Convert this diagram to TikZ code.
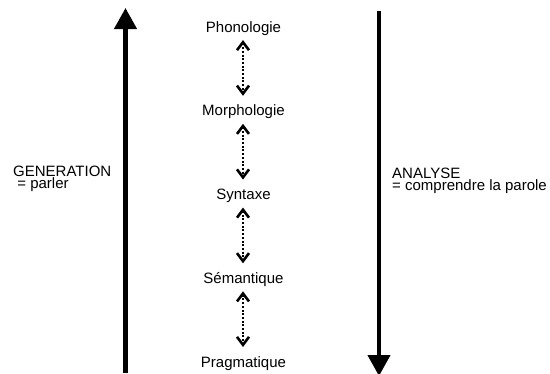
\documentclass[tikz,border=0pt]{standalone}
\usepackage{fontspec}
\setmainfont{Liberation Sans}
\usetikzlibrary{arrows.meta}
\tikzset{barb/.tip={Straight Barb[width=12pt,length=8pt,line width=2.6pt]}}
\begin{document}
\begin{tikzpicture}[x=1pt,y=-1pt,
  level/.style={font=\fontsize{15}{18}\selectfont, inner sep=0pt, anchor=base},
  side/.style={font=\fontsize{15}{12.5}\selectfont, inner sep=0pt, align=left, anchor=base west},
  flow/.style={line width=4.2pt, -{Triangle[width=22pt,length=21pt]}},
  link/.style={line width=2pt, dash pattern=on 2pt off 1.7pt, barb-barb}]
\useasboundingbox (0,0) rectangle (550,373);
% levels of language
\node[level] (pho) at (243.5,32) {Phonologie};
\node[level] (mor) at (243.5,115.75) {Morphologie};
\node[level] (syn) at (243.5,199.5) {Syntaxe};
\node[level] (sem) at (243.5,283.25) {Sémantique};
\node[level] (pra) at (243.5,367) {Pragmatique};
% links between neighbouring levels
\coordinate (a1) at (243,40);     \coordinate (b1) at (243,95.75);
\coordinate (a2) at (243,123.75); \coordinate (b2) at (243,179.5);
\coordinate (a3) at (243,207.5);  \coordinate (b3) at (243,263.25);
\coordinate (a4) at (243,291.25); \coordinate (b4) at (243,347);
\draw[link] (a1) -- (b1);
\draw[link] (a2) -- (b2);
\draw[link] (a3) -- (b3);
\draw[link] (a4) -- (b4);
% direction of processing
\coordinate (g0) at (125.5,373); \coordinate (g1) at (125.5,8);
\coordinate (n0) at (379,11);    \coordinate (n1) at (379,376);
\draw[flow] (g0) -- (g1);
\draw[flow] (n0) -- (n1);
% the anchor is the baseline of the second line
\node[side] (gen) at (13,188.5) {GENERATION\\\ = parler};
\node[side] (ana) at (392,190.5) {ANALYSE\\= comprendre la parole};
\end{tikzpicture}
\end{document}
